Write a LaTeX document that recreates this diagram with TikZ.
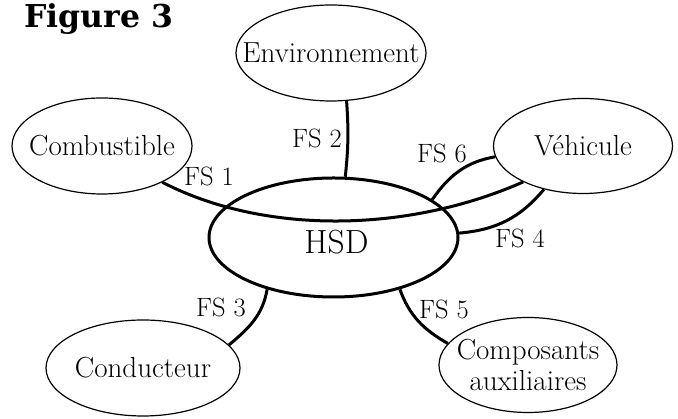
\documentclass[tikz,border=0pt]{standalone}
\usepackage{fontspec}
\newfontfamily\titlefont{DejaVu Serif}
\usetikzlibrary{shapes.geometric}
\begin{document}
\begin{tikzpicture}[x=1pt,y=1pt,
  outer/.style={ellipse,draw,line width=1.2pt,inner xsep=-40pt,inner ysep=-22pt,
    font=\fontsize{29}{31}\selectfont,align=center},
  link/.style={line width=3pt},
  fslabel/.style={anchor=base,inner sep=0pt,font=\fontsize{26.5}{30}\selectfont}]
\useasboundingbox (0,0) rectangle (678,419);
% title
\node[anchor=base west,inner sep=0pt,font=\titlefont\bfseries\fontsize{31.5}{36}\selectfont] (title) at (24,391) {Figure 3};
% ellipses
\node[outer,minimum width=190pt,minimum height=96pt] (env) at (331,366) {Environnement};
\node[outer,minimum width=180pt,minimum height=96pt] (comb) at (102,273) {Combustible};
\node[outer,minimum width=179pt,minimum height=95pt] (veh) at (583,273) {Véhicule};
\node[outer,minimum width=194pt,minimum height=96pt] (cond) at (143,51) {Conducteur};
\node[outer,minimum width=178pt,minimum height=95pt] (comp) at (528,54) {Composants\\auxiliaires};
\node[ellipse,draw,line width=3pt,minimum width=249pt,minimum height=119pt,inner sep=0pt,
  font=\fontsize{33.5}{38}\selectfont,text height=32pt,text depth=0pt] (hsd) at (333.5,181.5) {\hspace*{6pt}HSD};
% connectors
\draw[link] (comb.-31) .. controls (262,185) and (405,185) .. (veh.211.7);
\draw[link] (env.-72) to[bend left=5] (hsd.79);
\draw[link] (hsd.21) to[out=55,in=190] (veh.187);
\draw[link] (hsd.2) to[out=5,in=230] (veh.228);
\draw[link] (hsd.218) to[out=-100,in=40] (cond.15);
\draw[link] (hsd.-38) to[out=-70,in=150] (comp.165);
% labels
\node[fslabel] (l1) at (209,233) {FS 1};
\node[fslabel] (l2) at (317,271) {FS 2};
\node[fslabel] (l6) at (442,256) {FS 6};
\node[fslabel] (l4) at (520,171) {FS 4};
\node[fslabel] (l3) at (221,102) {FS 3};
\node[fslabel] (l5) at (444,100) {FS 5};
\end{tikzpicture}
\end{document}
